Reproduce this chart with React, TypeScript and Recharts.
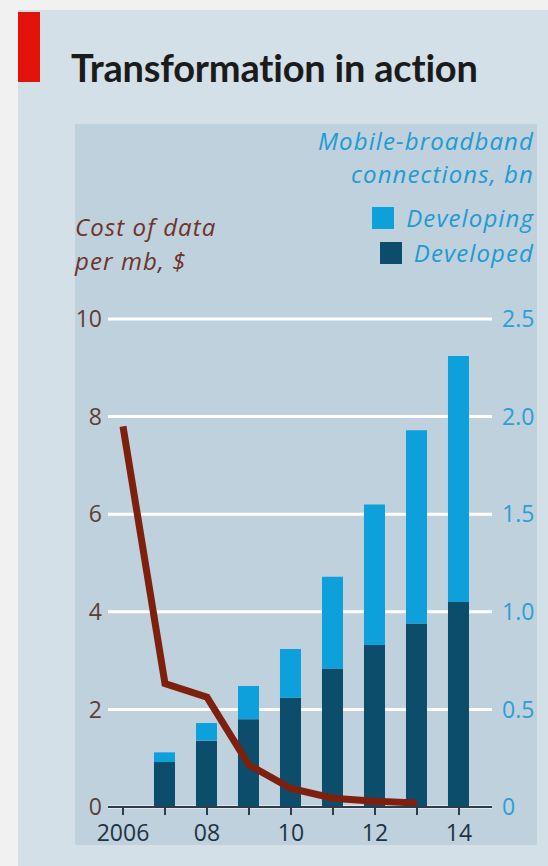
import { ComposedChart, Bar, Line, XAxis, YAxis, CartesianGrid } from 'recharts';

const years = [2006, 2007, 2008, 2009, 2010, 2011, 2012, 2013, 2014];
const developed = [null, 0.23, 0.34, 0.45, 0.56, 0.71, 0.83, 0.94, 1.05];
const developing = [null, 0.05, 0.09, 0.17, 0.25, 0.47, 0.72, 0.99, 1.26];
const costPerMb = [7.8, 2.53, 2.25, 0.86, 0.38, 0.18, 0.12, 0.08, null];
const leftTicks = [0, 2, 4, 6, 8, 10];
const rightTicks = [0, 0.5, 1, 1.5, 2, 2.5];

const data = years.map((year, i) => ({
  year,
  developed: developed[i],
  developing: developing[i],
  cost: costPerMb[i],
}));

const LIGHT = '#0ea0da';
const DARK = '#0b4d6b';
const BROWN = '#7e200e';
const FONT = '"Open Sans", sans-serif';

const yearLabel = (v: number) => (v === 2006 ? '2006' : v % 2 === 0 ? String(v).slice(2) : '');

export default function App() {
  return (
    <div style={{ position: 'absolute', left: 0, top: 0, width: 548, height: 866, background: '#f1f1f1', overflow: 'hidden', fontFamily: FONT }}>
      <div style={{ position: 'absolute', left: 18, top: 10, right: 0, bottom: 0, background: '#d3e0e8' }} />
      <div style={{ position: 'absolute', left: 18, top: 12, width: 22, height: 70, background: '#e3120b' }} />
      <div style={{ position: 'absolute', left: 71, top: 48, fontFamily: 'Lato, sans-serif', fontSize: 38, fontWeight: 700, color: '#1b1b1b', lineHeight: 1, letterSpacing: -0.2 }}>
        Transformation in action
      </div>
      <div style={{ position: 'absolute', left: 75, top: 124, width: 462, height: 721, background: '#bed1dd' }} />

      <div style={{ position: 'absolute', right: 14, top: 124, textAlign: 'right', fontStyle: 'italic', fontSize: 24, letterSpacing: 1.1, lineHeight: '33px', color: '#1f9ad3' }}>
        <div>Mobile-broadband</div>
        <div>connections, bn</div>
        <div style={{ display: 'flex', alignItems: 'center', justifyContent: 'flex-end', marginTop: 11 }}>
          <span style={{ width: 22, height: 22, background: LIGHT, marginRight: 12 }} />
          Developing
        </div>
        <div style={{ display: 'flex', alignItems: 'center', justifyContent: 'flex-end', marginTop: 2 }}>
          <span style={{ width: 22, height: 22, background: DARK, marginRight: 12 }} />
          Developed
        </div>
      </div>

      <div style={{ position: 'absolute', left: 75, top: 210, fontStyle: 'italic', fontSize: 24, letterSpacing: 1.1, lineHeight: '34px', color: '#6e3329' }}>
        <div>Cost of data</div>
        <div>per mb, $</div>
      </div>

      <div style={{ position: 'absolute', left: 0, top: 0 }}>
        <ComposedChart width={548} height={866} data={data} margin={{ top: 319, right: 11, bottom: 19, left: 75 }}>
          <CartesianGrid yAxisId="left" vertical={false} stroke="#ffffff" strokeWidth={3} />
          <XAxis
            dataKey="year"
            type="number"
            domain={[2005.643, 2014.786]}
            ticks={years}
            tickFormatter={yearLabel}
            interval={0}
            height={40}
            axisLine={{ stroke: '#2c3d49', strokeWidth: 2 }}
            tickLine={{ stroke: '#2c3d49', strokeWidth: 2 }}
            tickSize={8}
            tickMargin={10}
            tick={{ fontSize: 23, fill: '#1e3444', fontFamily: FONT }}
          />
          <YAxis
            yAxisId="left"
            orientation="left"
            domain={[0, 10]}
            ticks={leftTicks}
            width={33}
            axisLine={false}
            tickLine={false}
            tickSize={4}
            tickMargin={2}
            tick={{ fontSize: 23, fill: '#5e3e36', fontFamily: FONT }}
          />
          <YAxis
            yAxisId="right"
            orientation="right"
            domain={[0, 2.5]}
            ticks={rightTicks}
            tickFormatter={(v: number) => (v === 0 ? '0' : v.toFixed(1))}
            width={45}
            axisLine={false}
            tickLine={false}
            tickSize={6}
            tickMargin={4}
            tick={{ fontSize: 23, fill: '#2c9fd4', fontFamily: FONT }}
          />
          <Bar yAxisId="right" dataKey="developed" stackId="mb" fill={DARK} barSize={21} isAnimationActive={false} />
          <Bar yAxisId="right" dataKey="developing" stackId="mb" fill={LIGHT} barSize={21} isAnimationActive={false} />
          <Line yAxisId="left" dataKey="cost" stroke={BROWN} strokeWidth={7} dot={false} isAnimationActive={false} />
        </ComposedChart>
      </div>
    </div>
  );
}
